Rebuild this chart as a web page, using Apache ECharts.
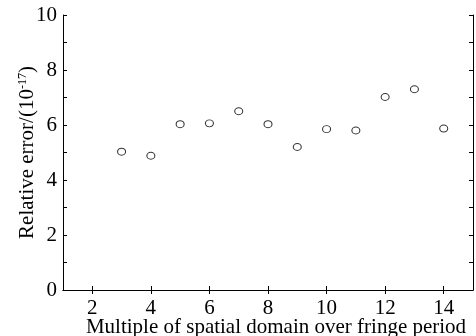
<!DOCTYPE html>
<html lang="en">
<head>
  <meta charset="UTF-8">
  <title>Relative error</title>
  <script src="https://cdn.jsdelivr.net/npm/echarts@6/dist/echarts.min.js"></script>
  <style>
    html, body { margin: 0; padding: 0; background: #fff; }
  </style>
</head>
<body>
<div id="main" style="width:476px;height:336px;"></div>
<script>
  // data
  var multiples = [3, 4, 5, 6, 7, 8, 9, 10, 11, 12, 13, 14];
  var relErrors = [5.03, 4.88, 6.03, 6.06, 6.5, 6.03, 5.2, 5.85, 5.8, 7.02, 7.3, 5.87];
  var xTicks = [2, 4, 6, 8, 10, 12, 14];
  var yTicks = [0, 1, 2, 3, 4, 5, 6, 7, 8, 9, 10];

  var font = "'Liberation Serif', 'Times New Roman', serif";
  var black = '#000';

  var points = multiples.map(function (m, i) { return [m, relErrors[i]]; });

  var myChart = echarts.init(document.getElementById('main'));

  // top / right axes only close the box and repeat the ticks
  function boxAxis(pos) {
    return {
      type: 'value',
      position: pos,
      min: pos === 'top' ? 1 : 0,
      max: pos === 'top' ? 15 : 10,
      axisLine: { show: true, lineStyle: { color: black, width: 1 } },
      axisTick: {
        show: true, inside: true, length: 4,
        lineStyle: { color: black },
        customValues: pos === 'top' ? xTicks : yTicks
      },
      axisLabel: { show: false },
      splitLine: { show: false }
    };
  }

  myChart.setOption({
    animation: false,
    grid: { left: 63, top: 15, right: 3, bottom: 46, containLabel: false, outerBoundsMode: 'none' },
    xAxis: [{
      type: 'value',
      min: 1,
      max: 15,
      name: 'Multiple of spatial domain over fringe period',
      nameLocation: 'middle',
      nameGap: 27,
      nameMoveOverlap: false,
      nameTextStyle: { fontFamily: font, fontSize: 21, color: black, padding: [0, 0, 0, 16] },
      axisLine: { show: true, onZero: false, lineStyle: { color: black, width: 1 } },
      axisTick: { show: true, inside: true, length: 4, lineStyle: { color: black }, customValues: xTicks },
      axisLabel: { fontFamily: font, fontSize: 21, color: black, margin: 8, customValues: xTicks },
      splitLine: { show: false }
    }, boxAxis('top')],
    yAxis: [{
      type: 'value',
      min: 0,
      max: 10,
      interval: 1,
      name: '{a|Relative error/(10}{b|-17}{a|)}',
      nameLocation: 'middle',
      nameGap: 25,
      nameMoveOverlap: false,
      nameTextStyle: {
        rich: {
          a: { fontFamily: font, fontSize: 21, color: black },
          b: { fontFamily: font, fontSize: 12, color: black, verticalAlign: 'top', padding: [0, 0, 8, 0] }
        }
      },
      axisLine: { show: true, onZero: false, lineStyle: { color: black, width: 1 } },
      axisTick: { show: true, inside: true, length: 4, lineStyle: { color: black } },
      axisLabel: {
        fontFamily: font, fontSize: 21, color: black, margin: 6,
        formatter: function (v) { return v % 2 === 0 ? String(v) : ''; }
      },
      splitLine: { show: false }
    }, boxAxis('right')],
    series: [{
      type: 'scatter',
      data: points,
      symbol: 'circle',
      symbolSize: [8, 7],
      itemStyle: { color: '#fff', borderColor: black, borderWidth: 1 }
    }]
  });
</script>
</body>
</html>
